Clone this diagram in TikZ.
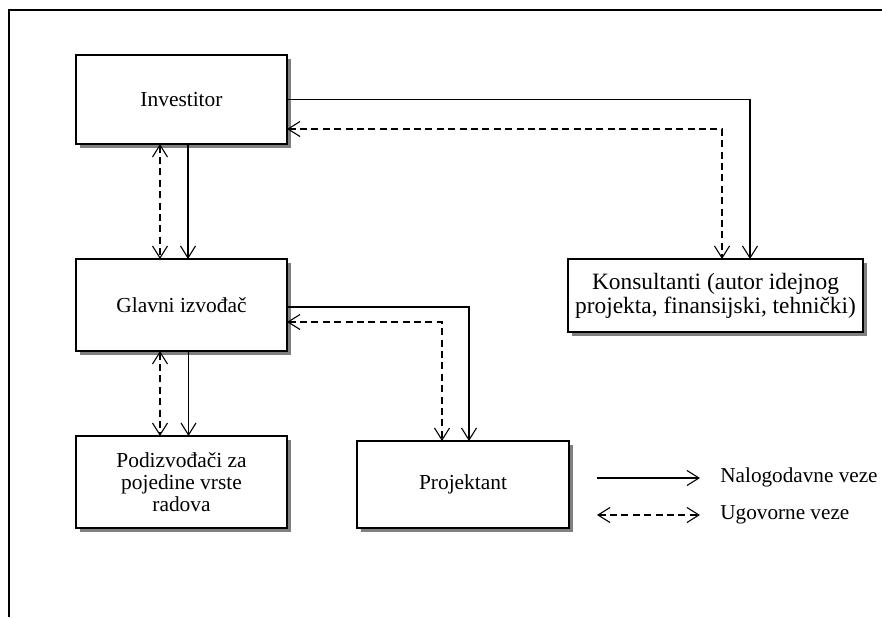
\documentclass[tikz,border=0pt]{standalone}
\usepackage{fontspec}
\setmainfont{Liberation Serif}
\usetikzlibrary{arrows.meta,positioning,backgrounds}

\begin{document}
\begin{tikzpicture}[
  x=0.5pt, y=-0.5pt,
  box/.style={draw, line width=0.6pt, fill=white, align=center, inner sep=0pt, outer sep=0pt,
    minimum width=105.5pt, minimum height=45pt, font=\fontsize{10.7}{11}\selectfont},
  sjena/.style={draw=black!50, line width=1.75pt, line join=miter},
  nal/.style={-{Straight Barb[length=6pt,width=7.5pt]}, line width=0.55pt},
  ug/.style={{Straight Barb[length=6pt,width=7.5pt]}-{Straight Barb[length=6pt,width=7.5pt]}, line width=0.55pt, dash pattern=on 3.5pt off 2.2pt},
  leg/.style={anchor=west, inner sep=0pt, font=\fontsize{10.6}{11}\selectfont}
]
\useasboundingbox (0,0) rectangle (882,617);
% okvir
\draw[line width=0.8pt] (882,10) -- (9,10) -- (9,617);

\node[box, minimum height=44.5pt] (inv) at (181.5,99.5) {Investitor};
\node[box, minimum height=46pt] (glv) at (181.5,305) {Glavni izvođač};
\node[box, minimum height=46pt] (pod) at (181.5,482) {Podizvođači za\\pojedine vrste\\radova};
\node[box, minimum width=106pt, minimum height=43.5pt] (proj) at (463,484.5) {Projektant};
\node[box, minimum width=147.5pt, minimum height=36.5pt, font=\fontsize{11.7}{12}\selectfont] (kons) at (715.5,295.5) {Konsultanti (autor idejnog\\projekta, finansijski, tehnički)};

% sjene
\begin{scope}[on background layer]
  \foreach \n in {inv,glv,pod,proj,kons}
    \draw[sjena] ([shift={(1.75pt,-0.875pt)}]\n.south west) -| ([shift={(0.875pt,-1.75pt)}]\n.north east);
\end{scope}

% veze
\draw[nal] ([xshift=3.25pt]inv.south) -- ([xshift=3.25pt]glv.north);
\draw[ug] ([xshift=-10.75pt]inv.south) -- ([xshift=-10.75pt]glv.north);
\draw[nal] (inv.east) -| ([xshift=17.25pt]kons.north);
\draw[ug] ([yshift=-14.75pt]inv.east) -| ([xshift=3.25pt]kons.north);

\draw[nal] ([xshift=3.5pt]glv.south) -- ([xshift=3.5pt]pod.north);
\draw[ug] ([xshift=-10.75pt]glv.south) -- ([xshift=-10.75pt]pod.north);
\draw[nal] ([yshift=-1pt]glv.east) -| ([xshift=3pt]proj.north);
\draw[ug] ([yshift=-8.5pt]glv.east) -| ([xshift=-10.5pt]proj.north);

% legenda
\node[leg] (naltxt) at (720,477) {Nalogodavne veze};
\node[leg] (ugtxt) at (720,515) {Ugovorne veze};
\coordinate (n1) at (597,478);
\coordinate (u1) at (597,515);
\draw[nal] (n1) -- ([xshift=-10pt]n1 -| naltxt.west);
\draw[ug] (u1) -- ([xshift=-10pt]u1 -| ugtxt.west);
\end{tikzpicture}
\end{document}
